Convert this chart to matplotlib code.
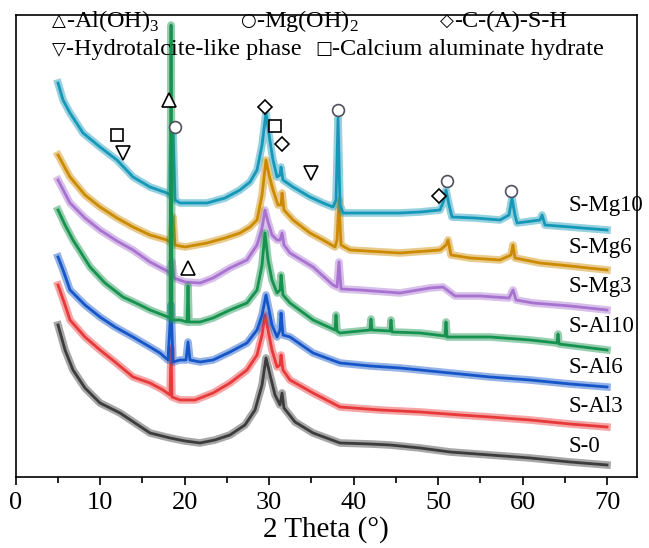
import matplotlib.pyplot as plt
import numpy as np

# XRD patterns (2 theta in degrees, intensity in a.u. with stacking offset included)
tt_s0 = [5.01, 5.84, 6.78, 8.20, 9.98, 12.35, 14.12, 15.90, 18.27, 20.04, 21.82, 23.59,
         25.37, 27.14, 28.33, 29.16, 29.63, 30.11, 30.70, 31.29, 31.53, 31.76, 33.07,
         35.20, 38.39, 41.94, 44.31, 47.86, 51.41, 56.15, 60.88, 65.62, 70.0]
int_s0 = [152, 127, 107, 89, 74, 64, 54, 44, 39, 36, 34, 37,
          42, 52, 67, 92, 119, 102, 82, 72, 84, 69, 55,
          44, 34, 33, 32, 29, 25, 22, 19, 15, 12]

tt_al3 = [5.01, 5.84, 6.43, 8.20, 9.98, 11.76, 13.89, 15.90, 17.44, 18.27, 18.39, 18.50,
          19.45, 21.23, 23.36, 25.37, 27.38, 28.57, 29.16, 29.51, 29.87, 30.34, 30.94,
          31.29, 31.41, 31.64, 32.47, 35.20, 38.39, 43.13, 47.86, 52.60, 56.15, 60.88,
          65.62, 70.0]
int_al3 = [192, 172, 157, 140, 127, 115, 100, 94, 87, 82, 129, 80,
           77, 77, 84, 94, 107, 122, 142, 162, 147, 127, 110,
           112, 122, 107, 97, 84, 70, 67, 65, 62, 60, 57,
           53, 50]

tt_al6 = [5.01, 5.60, 6.43, 8.20, 9.98, 11.76, 13.89, 15.90, 17.08, 18.03, 18.39, 18.62,
          19.45, 20.16, 20.40, 20.63, 21.82, 23.36, 25.37, 27.38, 28.57, 29.16, 29.63,
          29.87, 30.34, 30.94, 31.29, 31.41, 31.64, 32.47, 35.20, 38.39, 41.94, 45.50,
          50.23, 56.15, 60.88, 65.62, 70.0]
int_al6 = [220, 207, 187, 172, 160, 150, 140, 130, 124, 117, 172, 115,
           117, 117, 135, 117, 115, 117, 125, 134, 147, 162, 182,
           172, 152, 140, 147, 164, 142, 140, 124, 114, 111, 109,
           105, 100, 97, 93, 90]

tt_al10 = [5.01, 5.84, 6.78, 8.80, 10.57, 12.70, 14.72, 15.90, 18.03, 18.27, 18.39, 18.50,
           19.45, 20.28, 20.40, 20.51, 21.82, 23.36, 25.37, 27.38, 28.57, 29.16, 29.51,
           29.87, 30.34, 30.94, 31.29, 31.41, 31.64, 32.47, 35.20, 37.80, 37.92, 38.04,
           38.39, 41.94, 42.06, 42.18, 44.31, 44.43, 44.55, 47.86, 50.82, 50.94, 51.06,
           56.15, 60.88, 64.08, 64.20, 64.32, 70.0]
int_al10 = [267, 252, 237, 210, 194, 180, 172, 167, 160, 159, 452, 157,
            157, 155, 191, 155, 155, 159, 167, 174, 187, 212, 244,
            217, 197, 184, 187, 202, 182, 174, 157, 147, 162, 146,
            144, 147, 158, 147, 146, 157, 145, 144, 141, 155, 140,
            140, 137, 134, 143, 133, 127]

tt_mg3 = [5.01, 6.43, 8.20, 9.98, 11.99, 13.89, 15.90, 17.91, 18.27, 18.50, 18.74, 20.04,
          21.82, 23.36, 25.37, 27.38, 28.57, 29.16, 29.51, 29.87, 30.34, 30.94, 31.29,
          31.53, 31.76, 32.47, 35.20, 37.56, 38.04, 38.27, 38.51, 40.76, 45.50, 49.05,
          50.59, 52.01, 54.97, 58.40, 58.87, 59.23, 61.24, 65.62, 70.0]
int_mg3 = [297, 274, 259, 247, 236, 227, 215, 206, 204, 215, 199, 195,
           194, 199, 209, 217, 232, 249, 267, 255, 242, 237, 237,
           244, 232, 224, 210, 192, 190, 215, 188, 187, 184, 189,
           190, 181, 181, 179, 187, 177, 174, 171, 167]

tt_mg6 = [5.01, 6.43, 8.20, 9.98, 11.99, 13.89, 15.90, 17.91, 18.39, 18.62, 18.86, 20.04,
          22.65, 24.78, 26.55, 27.74, 28.57, 29.16, 29.63, 29.99, 30.46, 31.05, 31.41,
          31.53, 31.76, 32.83, 34.84, 36.38, 37.80, 38.04, 38.27, 38.51, 39.58, 45.50,
          50.23, 50.94, 51.18, 51.53, 53.78, 57.33, 58.63, 58.87, 59.10, 62.07, 65.62,
          70.0]
int_mg6 = [322, 300, 282, 270, 259, 250, 242, 237, 234, 260, 232, 230,
           234, 239, 244, 250, 257, 282, 317, 302, 287, 272, 272,
           284, 267, 257, 244, 237, 230, 237, 277, 232, 227, 224,
           227, 232, 237, 222, 219, 217, 222, 232, 219, 214, 211,
           207]

tt_mg10 = [5.01, 5.60, 6.43, 7.97, 9.98, 11.99, 13.89, 15.90, 17.91, 18.39, 18.62, 18.86,
           19.45, 22.65, 24.78, 26.55, 27.74, 28.57, 29.16, 29.63, 29.99, 30.46, 30.94,
           31.29, 31.41, 31.64, 32.83, 34.84, 36.38, 37.56, 37.92, 38.16, 38.39, 38.75,
           41.94, 45.50, 47.86, 50.23, 50.70, 50.94, 51.30, 51.65, 54.37, 57.33, 58.40,
           58.75, 59.10, 59.35, 62.07, 62.31, 62.66, 65.62, 70.0]
int_mg10 = [394, 377, 364, 344, 330, 317, 300, 290, 284, 281, 347, 277,
            274, 274, 279, 287, 295, 307, 332, 364, 342, 317, 300,
            302, 310, 297, 290, 280, 274, 270, 277, 359, 272, 264,
            264, 264, 265, 267, 277, 287, 272, 260, 259, 257, 262,
            279, 262, 254, 257, 262, 252, 250, 247]

samples = ['S-0', 'S-Al3', 'S-Al6', 'S-Mg3', 'S-Mg6', 'S-Mg10', 'S-Al10']
label_pos = {'S-Mg10': 272, 'S-Mg6': 230, 'S-Mg3': 190, 'S-Al10': 150,
             'S-Al6': 109, 'S-Al3': 70, 'S-0': 30}

# phase markers placed above the peaks
tri_up_x, tri_up_y = [18.15, 20.40], [377, 209]
circ_x, circ_y = [18.86, 38.16, 51.06, 58.63], [350, 367, 296, 286]
diam_x, diam_y = [29.51, 31.53, 50.11], [370, 333, 281]
sq_x, sq_y = [11.99, 30.70], [342, 351]
tri_dn_x, tri_dn_y = [12.70, 34.96], [324, 304]

# legend entries: symbol, description, left edge (px), row centre (px)
legend_sym = ['\u25b3', '\u25cb', '\u25c7', '\u25bd', '\u25a1']
legend_txt = ['-Al(OH)$_\\mathregular{3}$', '-Mg(OH)$_\\mathregular{2}$', '-C-(A)-S-H',
              '-Hydrotalcite-like phase', '-Calcium aluminate hydrate']
legend_x = [52, 240, 440, 52, 315]
legend_y = [21, 21, 21, 49, 49]

series = {
    'S-0': (tt_s0, int_s0, '#3c3c3c'),
    'S-Al3': (tt_al3, int_al3, '#e8393a'),
    'S-Al6': (tt_al6, int_al6, '#1456c8'),
    'S-Al10': (tt_al10, int_al10, '#16924f'),
    'S-Mg3': (tt_mg3, int_mg3, '#a873d0'),
    'S-Mg6': (tt_mg6, int_mg6, '#cc8a00'),
    'S-Mg10': (tt_mg10, int_mg10, '#1597b8'),
}

serif = ['Liberation Serif', 'DejaVu Sans']
plt.rcParams['mathtext.fontset'] = 'custom'
plt.rcParams['mathtext.rm'] = 'Liberation Serif'

W, H = 649, 548
fig = plt.figure(figsize=(W / 100, H / 100), dpi=100)
ax = fig.add_axes([0.0242, 0.1296, 0.9573, 0.8439])

# draw the patterns, a wider faint band first to get the noisy look
for name in samples:
    x, y, col = series[name]
    ax.plot(x, y, color=col, lw=5.5, alpha=0.45)
    ax.plot(x, y, color=col, lw=2.0)

# sample names on the right
for name, ypos in label_pos.items():
    ax.text(65.4, ypos, name, fontsize=16.5, family=serif, va='center', ha='left')

# phase symbols
mk = dict(ls='none', mfc='white', mew=1.2, zorder=5)
ax.plot(tri_up_x, tri_up_y, marker='^', ms=10, mec='black', **mk)
ax.plot(circ_x, circ_y, marker='o', ms=8.5, mec='#505060', **mk)
ax.plot(diam_x, diam_y, marker='D', ms=7, mec='black', **mk)
ax.plot(sq_x, sq_y, marker='s', ms=8.5, mec='black', **mk)
ax.plot(tri_dn_x, tri_dn_y, marker='v', ms=10, mec='black', **mk)

# legend written as text, symbol first then the description right after it
renderer = fig.canvas.get_renderer()
for sym, txt, lx, ly in zip(legend_sym, legend_txt, legend_x, legend_y):
    s = fig.text(lx / W, 1 - ly / H, sym, fontsize=13, family='DejaVu Sans', va='center')
    bb = s.get_window_extent(renderer)
    fig.text(bb.x1 / W, 1 - ly / H, txt, fontsize=17.5, family='Liberation Serif', va='center')

ax.set_xlim(0, 73.55)
ax.set_ylim(0, 462.5)
ax.set_yticks([])
ax.set_xticks(np.arange(0, 71, 10))
ax.set_xticks(np.arange(5, 71, 10), minor=True)
ax.tick_params(axis='x', which='major', direction='out', length=6, width=1.2, labelsize=19, pad=5)
ax.tick_params(axis='x', which='minor', direction='out', length=4, width=1.2)
for lab in ax.get_xticklabels():
    lab.set_family(serif)
for sp in ax.spines.values():
    sp.set_linewidth(1.2)
ax.set_xlabel('2 Theta (\u00b0)', fontsize=21, family=serif, labelpad=1)

plt.savefig('out.png', dpi=100)
